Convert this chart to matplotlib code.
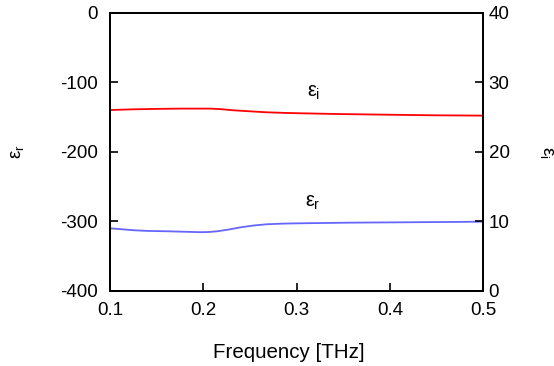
import matplotlib
matplotlib.use("Agg")
import matplotlib.pyplot as plt

plt.rcParams['font.family'] = ['Liberation Sans', 'DejaVu Sans']
plt.rcParams['mathtext.fontset'] = 'custom'
plt.rcParams['mathtext.rm'] = 'Liberation Sans'
plt.rcParams['mathtext.it'] = 'Liberation Sans'
plt.rcParams['axes.unicode_minus'] = False

# epsilon_i (right axis)
freq_i = [0.1, 0.125, 0.15, 0.175, 0.2075, 0.22, 0.232, 0.25, 0.268, 0.285,
          0.304, 0.34, 0.394, 0.447, 0.5]
eps_i = [26.04, 26.14, 26.2, 26.24, 26.24, 26.15, 26.0, 25.85, 25.71, 25.63,
         25.57, 25.47, 25.37, 25.28, 25.23]

# epsilon_r (left axis)
freq_r = [0.1, 0.125, 0.14, 0.161, 0.18, 0.197, 0.205, 0.215, 0.228, 0.24,
          0.254, 0.268, 0.285, 0.304, 0.358, 0.412, 0.466, 0.5]
eps_r = [-309.8, -312.6, -313.6, -314.1, -314.8, -315.4, -315.2, -314.1, -311.4, -308.4,
         -305.8, -304.0, -303.1, -302.6, -301.7, -301.2, -300.7, -300.3]

fig = plt.figure(figsize=(5.54, 3.66), dpi=100)
ax = fig.add_axes([0.1986, 0.205, 0.6734, 0.7595])
ax2 = ax.twinx()

ax.plot(freq_r, eps_r, color='#6666ff', lw=1.3)
ax2.plot(freq_i, eps_i, color='#ff0000', lw=1.3)

ax.set_xlim(0.1, 0.5)
ax.set_ylim(-400, 0)
ax2.set_ylim(0, 40)
ax.set_xticks([0.1, 0.2, 0.3, 0.4, 0.5])
ax.set_yticks([-400, -300, -200, -100, 0])
ax2.set_yticks([0, 10, 20, 30, 40])

ax.tick_params(direction='in', length=6, width=1.2, labelsize=13.5)
ax.tick_params(axis='y', pad=9)
ax.tick_params(axis='x', pad=8)
ax2.tick_params(direction='in', length=6, width=1.2, labelsize=13.5, pad=4)
for a in (ax, ax2):
    for s in a.spines.values():
        s.set_linewidth(1.3)

ax.set_xlabel('Frequency [THz]', fontsize=14.8)
ax.xaxis.set_label_coords(0.48, -0.22)
ax.xaxis.label.set_va('center')
ax.set_ylabel(r'$\varepsilon_{\rm r}$', fontsize=13.5)
ax.yaxis.set_label_coords(-0.224, 0.5)
ax2.set_ylabel(r'$\varepsilon_{\rm i}$', fontsize=13.5, rotation=270, va='center')
ax2.yaxis.set_label_coords(1.17, 0.5)

ax.text(0.318, -114, r'$\varepsilon_{\rm i}$', fontsize=14.5, ha='center', va='center')
ax.text(0.317, -272, r'$\varepsilon_{\rm r}$', fontsize=14.5, ha='center', va='center')

fig.savefig('out.png', dpi=100)
